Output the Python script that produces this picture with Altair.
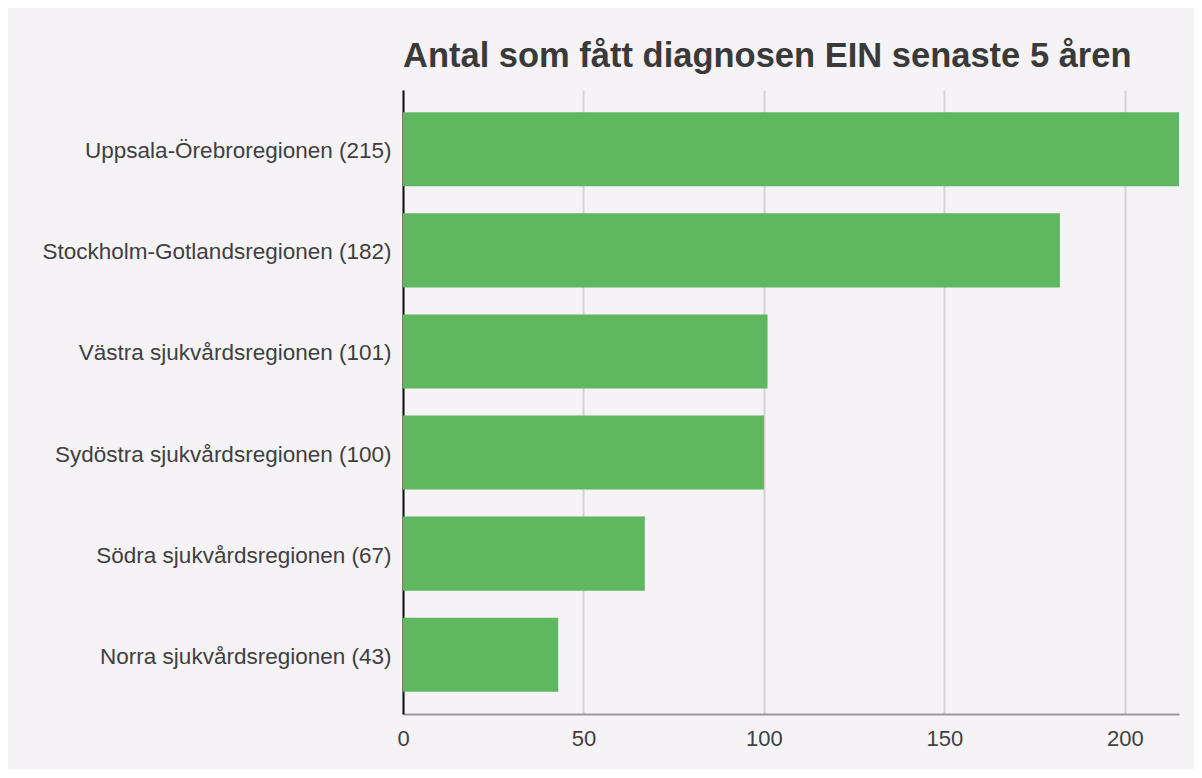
import altair as alt
import pandas as pd

regions = [
    "Uppsala-Örebroregionen (215)",
    "Stockholm-Gotlandsregionen (182)",
    "Västra sjukvårdsregionen (101)",
    "Sydöstra sjukvårdsregionen (100)",
    "Södra sjukvårdsregionen (67)",
    "Norra sjukvårdsregionen (43)",
]
counts = [215, 182, 101, 100, 67, 43]
x_ticks = [0, 50, 100, 150, 200]

df = pd.DataFrame({"region": regions, "count": counts})

chart = alt.Chart(df).mark_bar(color="#5fb760").encode(
    y=alt.Y(
        "region:N",
        sort=regions,
        title=None,
        scale=alt.Scale(paddingInner=0.267, paddingOuter=0.22),
        axis=alt.Axis(
            labelFontSize=22.5,
            labelColor="#404040",
            labelFont="Liberation Sans",
            ticks=False,
            labelPadding=12,
            labelOffset=2,
            domainColor="#111111",
            domainWidth=2,
            grid=False,
            labelLimit=400,
        ),
    ),
    x=alt.X(
        "count:Q",
        title=None,
        scale=alt.Scale(domain=[0, 215], nice=False),
        axis=alt.Axis(
            values=x_ticks,
            labelFontSize=22,
            labelColor="#404040",
            labelFont="Liberation Sans",
            ticks=False,
            labelPadding=14,
            domainColor="#999999",
            domainWidth=2,
            grid=True,
            gridColor="#d3d3d3",
            gridWidth=2,
            labelFlush=False,
        ),
    ),
).properties(
    width=776,
    height=624,
    title=alt.TitleParams(
        "Antal som fått diagnosen EIN senaste 5 åren",
        anchor="start",
        frame="group",
        font="Liberation Sans",
        fontSize=34.5,
        fontWeight="bold",
        color="#3a3a3a",
        offset=16,
    ),
    background="#f5f3f6",
    autosize=alt.AutoSizeParams(type="none"),
    padding={"left": 395, "top": 82, "right": 15, "bottom": 55},
).configure_view(stroke=None)

chart.save("out.html", embed_options={"renderer": "svg", "actions": False})
